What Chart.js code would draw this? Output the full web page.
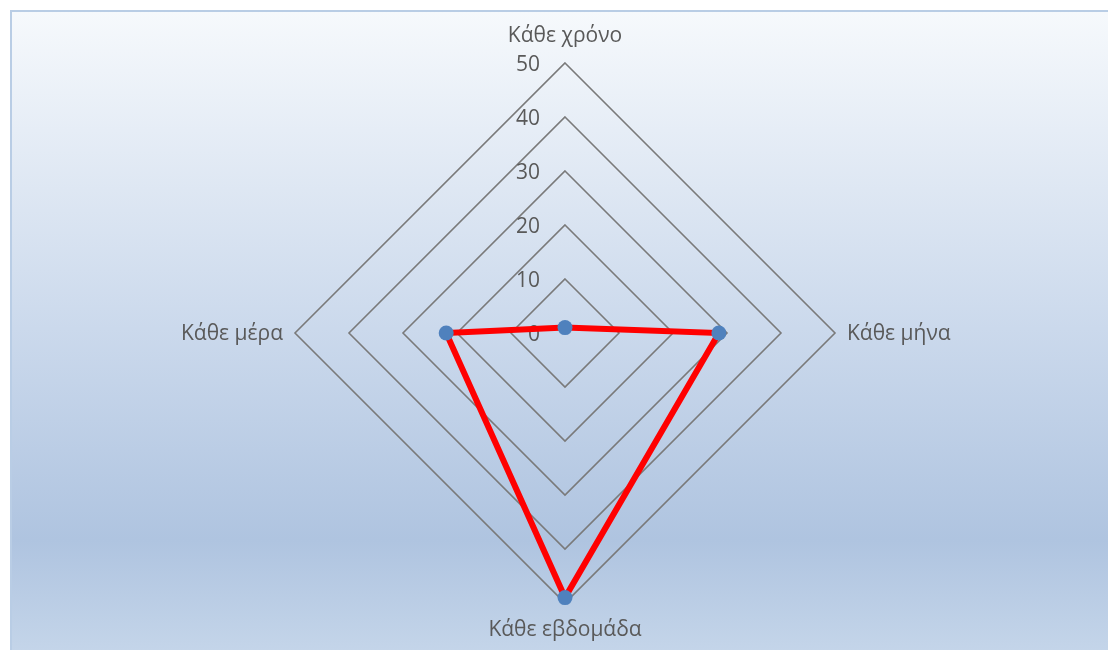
<!DOCTYPE html>
<html>
<head>
<meta charset="utf-8">
<script src="https://cdn.jsdelivr.net/npm/chart.js@4/dist/chart.umd.min.js"></script>
<style>
  body { margin: 0; width: 1108px; height: 650px; overflow: hidden; background: #ffffff; position: relative; }
  #frame {
    position: absolute; left: 10px; top: 10px; width: 1110px; height: 660px;
    border: 2px solid #b9cde5;
    background: linear-gradient(to bottom, #f6f9fc 0%, #cbd9ec 48%, #afc4e0 80%, #c8d8eb 100%);
  }
  canvas { position: absolute; left: 0; top: 0; }
</style>
</head>
<body>
<div id="frame"></div>
<canvas id="radarChart" width="1108" height="650"></canvas>
<script>
// Categories (clockwise from the top)
const categories = ['Κάθε χρόνο', 'Κάθε μήνα', 'Κάθε εβδομάδα', 'Κάθε μέρα'];
// Series values
const values = [1, 28.5, 49, 22];
// Scale ticks
const tickMin = 0;
const tickMax = 50;
const tickStep = 10;

// Draws the tick numbers left of the vertical axis and the category labels
const radarLabels = {
    id: 'radarLabels',
    beforeDatasetsDraw(chart) {
        const scale = chart.scales.r;
        const ctx = chart.ctx;
        ctx.save();
        ctx.fillStyle = '#595959';
        ctx.font = '21px "Open Sans"';

        // tick labels
        ctx.textAlign = 'right';
        ctx.textBaseline = 'middle';
        scale.ticks.forEach(t => {
            const y = scale.yCenter - scale.getDistanceFromCenterForValue(t.value);
            ctx.fillText(t.label, scale.xCenter - 25, y + 2);
        });

        // category labels
        chart.data.labels.forEach((lab, i) => {
            const p = scale.getPointPosition(i, scale.drawingArea);
            const dx = p.x - scale.xCenter;
            const dy = p.y - scale.yCenter;
            if (Math.abs(dx) < 1) {
                ctx.textAlign = 'center';
                ctx.fillText(lab, p.x, p.y + Math.sign(dy) * 27);
            } else {
                ctx.textAlign = dx > 0 ? 'left' : 'right';
                ctx.fillText(lab, p.x + Math.sign(dx) * 12, p.y + 1);
            }
        });
        ctx.restore();
    }
};

const ctx = document.getElementById('radarChart').getContext('2d');

const data = {
    labels: categories,
    datasets: [{
        data: values,
        borderColor: '#ff0000',
        borderWidth: 6,
        backgroundColor: 'rgba(0,0,0,0)',
        fill: false,
        pointRadius: 7.5,
        pointHoverRadius: 7.5,
        pointBackgroundColor: '#4f81bd',
        pointBorderWidth: 0
    }]
};

const config = {
    type: 'radar',
    data: data,
    options: {
        responsive: false,
        animation: false,
        layout: {
            padding: { left: 295, right: 273, top: 63, bottom: 47 }
        },
        scales: {
            r: {
                min: tickMin,
                max: tickMax,
                ticks: { stepSize: tickStep, display: false },
                pointLabels: { display: false },
                angleLines: { display: false },
                grid: { color: '#7a7a7a', lineWidth: 1.6 }
            }
        },
        plugins: {
            legend: { display: false },
            tooltip: { enabled: false }
        }
    },
    plugins: [radarLabels]
};

const myChart = new Chart(ctx, config);
</script>
</body>
</html>
